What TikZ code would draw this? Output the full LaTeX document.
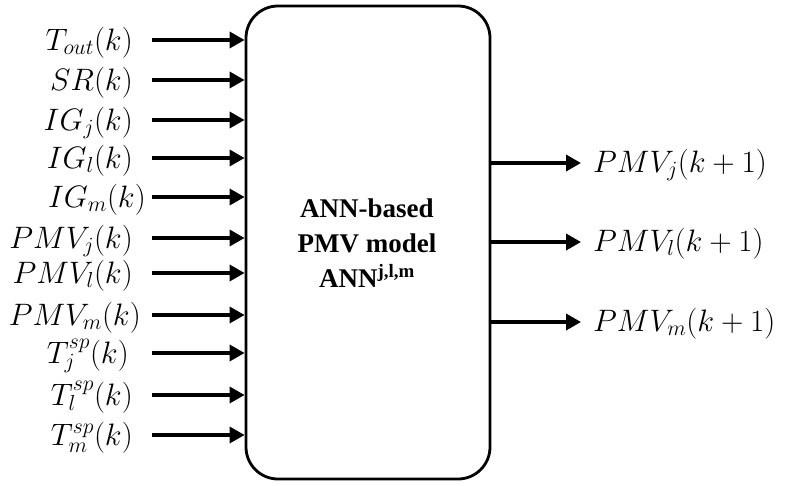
\RequirePackage{fix-cm}
\documentclass[tikz,border=0pt]{standalone}
\usepackage{fontspec}
\newfontfamily\tnr{Liberation Serif}
\usetikzlibrary{arrows.meta}
\begin{document}
\begin{tikzpicture}[x=1pt,y=-1pt,
  inlbl/.style={anchor=base east,inner sep=0pt,font=\fontsize{31}{37}\selectfont},
  outlbl/.style={anchor=base west,inner sep=0pt,font=\fontsize{31}{37}\selectfont},
  ctext/.style={anchor=base,inner sep=0pt,font=\tnr\bfseries\fontsize{27}{33}\selectfont},
  arr/.style={line width=3.5pt,-{Triangle[length=15pt,width=16pt]}},
  blk/.style={draw,line width=2.8pt,rounded corners=32pt,minimum width=244pt,minimum height=473pt,inner sep=0pt}]
\useasboundingbox (0,0) rectangle (792,485);
\node[blk] (box) at (368,242.5) {};
\node[ctext] (t1) at (367,217) {ANN-based};
\node[ctext] (t2) at (367,252) {PMV model};
\node[ctext] (t3) at (367,287) {ANN\textsuperscript{j,l,m}};
% inputs
\foreach \y/\xl/\txt [count=\i] in {
  40/133/{$T_{out}(k)$},
  80/133/{$SR(k)$},
  120/133/{$IG_j(k)$},
  158/133/{$IG_l(k)$},
  197/146/{$IG_m(k)$},
  238/133/{$PMV_j(k)$},
  273/133/{$PMV_l(k)$},
  315/141/{$PMV_m(k)$},
  353/129/{$T_j^{sp}(k)$},
  395/133/{$T_l^{sp}(k)$},
  435/133/{$T_m^{sp}(k)$}}{
  \node[inlbl] (in\i) at (\xl,\y+10) {\txt};
  \coordinate (s\i) at (152,\y);
  \draw[arr] (s\i) -- (s\i -| box.west);
}
% outputs
\foreach \y/\txt [count=\i] in {
  163/{$PMV_j(k+1)$},
  242/{$PMV_l(k+1)$},
  322/{$PMV_m(k+1)$}}{
  \coordinate (e\i) at (581,\y);
  \draw[arr] (e\i -| box.east) -- (e\i);
  \node[outlbl] (out\i) at (593,\y+9) {\txt};
}
\end{tikzpicture}
\end{document}
